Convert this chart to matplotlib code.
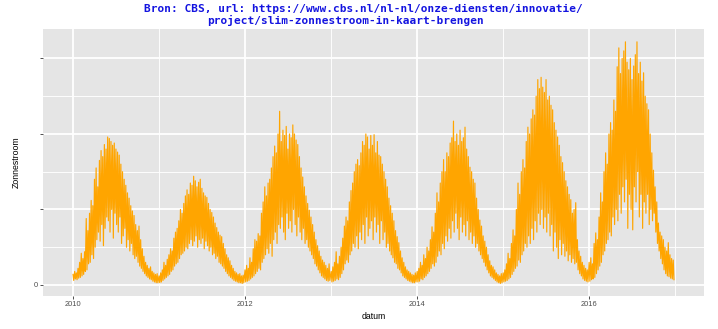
import pandas as pd
import matplotlib
matplotlib.use("Agg")
import matplotlib.pyplot as plt
import matplotlib.dates as mdates

plt.rcParams["font.family"] = ["Liberation Sans", "DejaVu Sans"]

# zonnestroom per week: hoogste en laagste dagwaarde (52 weken per jaar)
years = [2010, 2011, 2012, 2013, 2014, 2015, 2016]

max_2010 = [14, 18, 16, 22, 30, 42, 35, 44, 88, 72, 95, 112, 105,
            140, 155, 130, 165, 178, 170, 186, 180, 196, 194, 190, 185, 188,
            180, 176, 172, 160, 150, 140, 132, 122, 115, 105, 98, 92, 80,
            72, 78, 60, 48, 38, 30, 26, 22, 24, 18, 16, 14, 15]
min_2010 = [6, 8, 7, 9, 10, 12, 14, 18, 20, 28, 30, 40, 35,
            50, 60, 70, 58, 80, 52, 75, 90, 85, 70, 100, 62, 95,
            80, 70, 90, 55, 65, 75, 50, 60, 45, 55, 40, 35, 38,
            30, 25, 22, 18, 15, 12, 10, 8, 7, 5, 4, 3, 3]

max_2011 = [12, 16, 20, 30, 26, 34, 40, 48, 45, 62, 70, 75, 85,
            100, 95, 108, 118, 126, 120, 135, 132, 144, 138, 130, 136, 140,
            128, 122, 118, 116, 108, 100, 96, 90, 82, 76, 70, 66, 64,
            55, 48, 40, 36, 32, 26, 22, 18, 16, 14, 15, 12, 13]
min_2011 = [3, 4, 6, 8, 10, 12, 14, 18, 20, 25, 28, 30, 35,
            40, 42, 45, 50, 48, 55, 60, 52, 58, 65, 50, 60, 55,
            62, 48, 58, 52, 45, 50, 40, 42, 35, 38, 30, 28, 25,
            22, 18, 15, 12, 10, 8, 6, 5, 4, 3, 3, 2, 3]

max_2012 = [20, 26, 22, 36, 30, 48, 60, 58, 68, 65, 95, 110, 130,
            118, 135, 140, 155, 170, 184, 175, 200, 230, 190, 205, 198, 210,
            180, 200, 195, 212, 200, 192, 186, 170, 155, 143, 130, 118, 108,
            99, 90, 80, 70, 60, 52, 45, 38, 33, 30, 26, 22, 28]
min_2012 = [4, 5, 6, 8, 10, 12, 15, 18, 22, 20, 30, 35, 40,
            48, 42, 55, 38, 60, 70, 55, 80, 75, 90, 70, 60, 95,
            75, 85, 70, 100, 80, 65, 90, 70, 60, 75, 55, 60, 50,
            45, 40, 35, 28, 25, 20, 16, 12, 10, 8, 6, 5, 6]

max_2013 = [18, 24, 30, 44, 28, 38, 50, 62, 78, 90, 85, 110, 125,
            135, 150, 160, 166, 158, 175, 190, 185, 200, 196, 180, 198, 185,
            199, 175, 190, 172, 170, 160, 150, 140, 130, 115, 105, 95, 85,
            72, 64, 56, 45, 36, 30, 24, 20, 18, 16, 14, 13, 16]
min_2013 = [4, 5, 6, 8, 7, 10, 15, 20, 28, 33, 30, 40, 45,
            55, 50, 65, 48, 70, 60, 80, 55, 90, 65, 75, 85, 60,
            90, 70, 80, 55, 85, 60, 70, 50, 55, 45, 40, 36, 30,
            28, 22, 20, 16, 12, 10, 8, 6, 5, 4, 3, 3, 4]

max_2014 = [18, 22, 30, 26, 40, 35, 50, 45, 60, 77, 70, 95, 122,
            110, 135, 150, 166, 150, 175, 170, 188, 195, 217, 190, 200, 185,
            205, 190, 195, 209, 180, 170, 156, 150, 140, 135, 115, 100, 86,
            78, 65, 58, 50, 40, 32, 26, 24, 20, 16, 14, 12, 15]
min_2014 = [4, 5, 8, 7, 10, 12, 15, 18, 22, 28, 25, 30, 38,
            45, 40, 55, 48, 65, 58, 75, 62, 85, 70, 95, 75, 60,
            90, 70, 80, 65, 85, 60, 70, 55, 65, 50, 55, 45, 40,
            35, 30, 25, 20, 16, 12, 10, 8, 6, 4, 3, 2, 3]

max_2015 = [16, 20, 28, 42, 35, 55, 73, 65, 100, 135, 120, 150, 166,
            155, 190, 209, 200, 220, 232, 225, 250, 272, 260, 275, 262, 255,
            272, 245, 250, 238, 232, 215, 205, 196, 185, 170, 162, 150, 138,
            130, 120, 113, 95, 100, 109, 60, 45, 38, 30, 26, 22, 20]
min_2015 = [4, 5, 6, 8, 10, 14, 18, 22, 25, 33, 30, 40, 45,
            55, 50, 65, 55, 75, 60, 85, 70, 95, 80, 100, 75, 90,
            70, 95, 65, 80, 45, 70, 50, 35, 60, 40, 55, 38, 45,
            32, 40, 30, 35, 28, 30, 20, 15, 12, 8, 6, 5, 4]

max_2016 = [30, 36, 28, 55, 69, 60, 90, 122, 110, 150, 175, 160, 200,
            215, 205, 245, 230, 289, 314, 280, 300, 310, 322, 295, 285, 300,
            272, 290, 305, 322, 280, 295, 270, 281, 250, 240, 232, 200, 175,
            152, 130, 110, 82, 70, 65, 60, 50, 45, 56, 40, 35, 33]
min_2016 = [5, 7, 8, 10, 15, 20, 25, 30, 40, 45, 55, 60, 70,
            65, 90, 80, 100, 85, 120, 95, 130, 110, 140, 75, 120, 100,
            73, 130, 110, 150, 90, 120, 75, 110, 95, 120, 80, 100, 85,
            95, 70, 55, 45, 35, 28, 20, 15, 12, 11, 9, 8, 7]

maxima = [max_2010, max_2011, max_2012, max_2013, max_2014, max_2015, max_2016]
minima = [min_2010, min_2011, min_2012, min_2013, min_2014, min_2015, min_2016]

# reeks opbouwen: per week eerst de piek, dan het dal
datum, stroom = [], []
for year, hi, lo in zip(years, maxima, minima):
    start = pd.Timestamp(year=year, month=1, day=1)
    for k in range(52):
        week = start + pd.Timedelta(days=7 * k)
        datum += [week + pd.Timedelta(days=1), week + pd.Timedelta(days=4)]
        stroom += [hi[k], lo[k]]

fig = plt.figure(figsize=(7.18, 3.29), dpi=100)
ax = fig.add_axes([43 / 718, 1 - 296 / 329, 661 / 718, 267 / 329])
ax.set_facecolor("#E5E5E5")

ax.plot(datum, stroom, color="#FFA500", lw=0.85)

# assen zoals ggplot (5% marge)
x0 = mdates.date2num(datum[0])
x1 = mdates.date2num(datum[-1])
span = x1 - x0
ax.set_xlim(x0 - 0.05 * span, x1 + 0.05 * span)
ax.set_ylim(-14.6, 339)

ax.set_xticks([mdates.date2num(pd.Timestamp(y, 1, 1)) for y in [2010, 2012, 2014, 2016]])
ax.set_xticklabels(["2010", "2012", "2014", "2016"])
ax.set_xticks([mdates.date2num(pd.Timestamp(y, 1, 1)) for y in [2011, 2013, 2015, 2017]], minor=True)
ax.set_yticks([0, 100, 200, 300])
ax.set_yticklabels(["0", "", "", ""])
ax.set_yticks([50, 150, 250], minor=True)

ax.grid(which="major", color="white", lw=1.3)
ax.grid(which="minor", color="white", lw=0.65)
ax.set_axisbelow(True)
for s in ax.spines.values():
    s.set_visible(False)

ax.tick_params(which="major", length=2.3, width=0.6, color="#333333",
               labelsize=5.4, labelcolor="#4D4D4D", pad=1.5)
ax.tick_params(which="minor", length=0)

ax.set_xlabel("datum", fontsize=6.3, labelpad=3)
ax.set_ylabel("Zonnestroom", fontsize=6.3, labelpad=9)

# titel in twee regels
fig.text(363.5 / 718, 1 - 12 / 329,
         "Bron: CBS, url: https://www.cbs.nl/nl-nl/onze-diensten/innovatie/",
         ha="center", va="baseline", color="#1414E0", fontweight="bold",
         family="DejaVu Sans Mono", fontsize=8)
fig.text(345.5 / 718, 1 - 24 / 329,
         "project/slim-zonnestroom-in-kaart-brengen",
         ha="center", va="baseline", color="#1414E0", fontweight="bold",
         family="DejaVu Sans Mono", fontsize=8)

fig.savefig("out.png", dpi=100)
